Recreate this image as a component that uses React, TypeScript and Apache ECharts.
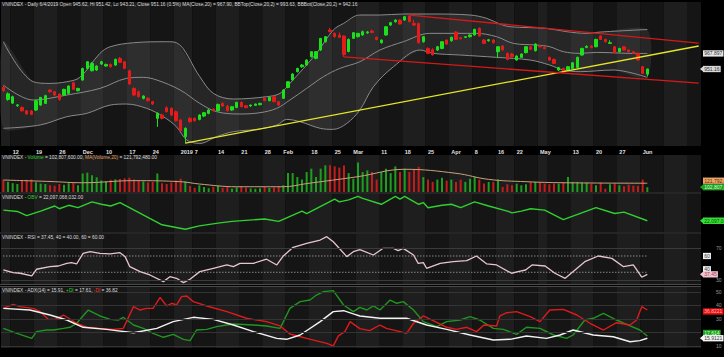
import React, { useEffect, useRef } from 'react';
import * as echarts from 'echarts';

// ---------- categories (139 trading days + empty space to the right) ----------
const CAT_COUNT = 150;
const tickLabels: [number, string][] = [
  [2, '12'], [7, '19'], [12, '26'], [17, 'Dec'], [22, '10'], [27, '17'], [32, '24'], [38, '2019'],
  [41, '7'], [46, '14'], [51, '21'], [56, '28'], [60, 'Feb'], [66, '18'], [71, '25'], [75, 'Mar'],
  [81, '11'], [86, '18'], [91, '25'], [96, 'Apr'], [101, '8'], [106, '16'], [110, '22'], [115, 'May'],
  [122, '13'], [127, '20'], [132, '27'], [137, 'Jun'],
];
const weekStarts = [0, 2, 7, 12, 17, 22, 27, 32, 37, 41, 46, 51, 56, 61, 66, 71, 76, 81, 86, 91, 96, 101, 106, 110, 115, 117, 122, 127, 132, 137, 142, 147];

// ---------- price candles: [open, high, low, close] ----------
const candles: number[][] = [
  [931.4, 933.0, 926.5, 927.8], [918.5, 926.0, 917.0, 924.5], [914.5, 922.5, 913.5, 921.4], [911.7, 913.5, 910.5, 912.6],
  [909.9, 911.0, 905.5, 906.2], [906.3, 907.0, 902.0, 902.8], [906.0, 907.0, 901.5, 902.4], [907.1, 918.0, 906.0, 917.1],
  [912.4, 921.0, 911.5, 920.7], [914.2, 923.5, 913.5, 922.5], [928.6, 929.5, 925.5, 926.8], [926.8, 927.5, 922.0, 923.2],
  [924.3, 925.0, 917.0, 918.5], [923.2, 930.0, 922.5, 929.3], [925.0, 933.5, 924.0, 932.9], [936.4, 937.5, 928.5, 929.3],
  [927.8, 931.0, 927.0, 930.3], [939.3, 952.5, 938.5, 951.8], [951.8, 959.8, 950.5, 959.0], [949.3, 958.5, 948.5, 957.2],
  [950.1, 955.0, 949.0, 954.4], [956.5, 960.0, 955.5, 959.0], [954.4, 957.0, 953.5, 956.1], [956.1, 957.0, 952.5, 953.6],
  [955.4, 962.5, 954.5, 961.5], [962.6, 964.0, 957.5, 958.3], [959.0, 960.0, 951.0, 951.8], [949.3, 950.5, 934.0, 935.0],
  [930.3, 931.5, 922.0, 923.2], [926.8, 928.0, 920.5, 921.4], [919.6, 923.0, 918.5, 922.1], [919.6, 921.0, 916.0, 917.1],
  [916.0, 917.0, 912.5, 913.5], [898.1, 904.5, 889.0, 903.5], [901.7, 903.0, 897.0, 898.1], [909.6, 911.0, 904.5, 905.3],
  [908.9, 910.0, 900.5, 901.7], [905.3, 906.5, 894.5, 895.6], [896.3, 897.5, 884.0, 884.9], [878.4, 888.5, 871.2, 887.4],
  [898.1, 899.5, 893.5, 894.5], [898.1, 899.0, 894.5, 895.6], [897.0, 902.5, 896.0, 901.7], [900.6, 905.0, 899.5, 904.2],
  [903.5, 908.0, 902.5, 907.1], [907.8, 909.0, 905.5, 906.3], [906.3, 914.0, 905.5, 913.1], [914.2, 915.5, 910.5, 911.4],
  [911.4, 912.5, 905.5, 906.3], [907.1, 911.5, 906.0, 910.6], [909.9, 916.0, 909.0, 915.3], [915.3, 916.5, 910.0, 910.6],
  [911.7, 912.5, 909.0, 909.6], [911.4, 913.0, 910.5, 912.4], [912.1, 914.0, 911.5, 913.5], [912.8, 915.0, 912.0, 914.2],
  [919.6, 920.5, 916.5, 917.1], [917.1, 921.5, 916.5, 920.7], [921.4, 922.5, 915.5, 916.0], [916.0, 917.0, 911.5, 912.4],
  [919.6, 929.5, 919.0, 928.6], [931.4, 938.0, 930.5, 937.5], [939.3, 946.5, 938.5, 945.8], [948.3, 952.5, 947.5, 951.8],
  [953.6, 956.5, 952.5, 955.4], [955.4, 961.5, 954.5, 960.8], [964.4, 970.5, 963.5, 969.8], [962.6, 970.5, 961.5, 969.8],
  [971.6, 984.5, 970.5, 984.1], [980.5, 986.5, 979.5, 985.9], [993.1, 995.5, 990.5, 991.3], [989.5, 990.5, 985.0, 985.9],
  [987.7, 990.5, 984.5, 985.2], [986.6, 987.5, 964.1, 966.5], [970.0, 984.0, 969.0, 983.0], [984.1, 991.0, 983.5, 990.2],
  [985.9, 990.0, 985.0, 989.5], [987.7, 992.5, 987.0, 991.3], [990.0, 992.0, 989.0, 991.0], [992.0, 993.5, 989.5, 990.5],
  [985.2, 986.0, 982.0, 983.0], [979.4, 983.0, 978.5, 982.3], [987.7, 997.5, 987.0, 996.6], [998.4, 1001.8, 997.5, 1001.0],
  [1002.0, 1004.5, 1001.0, 1003.8], [1003.8, 1004.5, 999.0, 999.5], [1003.8, 1008.0, 1003.0, 1007.4], [1008.1, 1009.2, 1001.5, 1002.0],
  [1000.2, 1004.0, 997.5, 998.4], [1000.2, 1001.0, 978.5, 979.4], [980.5, 986.5, 979.5, 985.9], [973.3, 974.5, 967.0, 968.0],
  [972.0, 973.5, 965.5, 966.5], [971.6, 976.0, 970.5, 975.1], [973.3, 981.0, 972.5, 980.5], [982.3, 983.0, 977.0, 978.0],
  [981.6, 986.0, 980.5, 985.2], [990.9, 992.0, 982.5, 983.0], [984.8, 985.5, 983.0, 983.7], [985.2, 986.5, 984.5, 985.9],
  [985.9, 988.5, 985.0, 987.7], [987.7, 994.5, 987.0, 993.8], [994.8, 996.0, 986.0, 986.6], [982.3, 983.5, 978.0, 978.7],
  [981.6, 983.5, 980.5, 982.6], [982.3, 983.5, 978.5, 979.4], [969.8, 975.8, 963.0, 975.1], [975.9, 977.0, 971.0, 971.6],
  [968.0, 969.0, 960.5, 961.5], [967.3, 968.5, 963.5, 964.4], [960.8, 965.8, 960.0, 965.1], [963.7, 968.0, 963.0, 967.3],
  [968.7, 975.8, 968.0, 975.1], [975.1, 976.0, 971.5, 972.3], [970.8, 978.8, 970.0, 978.0], [976.0, 977.0, 974.5, 975.0],
  [974.4, 975.5, 972.5, 973.0], [963.7, 964.5, 960.0, 960.8], [961.5, 962.5, 956.5, 957.2], [950.1, 953.5, 949.0, 952.6],
  [951.8, 952.5, 947.5, 948.3], [950.1, 954.5, 949.0, 953.6], [951.8, 958.5, 951.0, 957.9], [952.9, 964.5, 952.0, 963.7],
  [966.2, 974.0, 965.5, 973.3], [974.4, 976.5, 973.5, 975.5], [975.9, 977.0, 973.5, 974.4], [975.1, 983.8, 974.5, 983.0],
  [986.6, 987.5, 982.5, 983.0], [983.0, 984.0, 979.5, 980.5], [978.7, 982.0, 978.0, 979.4], [975.1, 976.0, 968.0, 968.7],
  [969.8, 974.0, 969.0, 973.3], [975.1, 976.0, 971.0, 971.6], [971.6, 972.5, 969.0, 969.8], [969.8, 970.5, 967.5, 968.0],
  [968.0, 968.8, 960.0, 960.8], [953.6, 954.5, 946.0, 946.4], [945.62, 951.42, 943.21, 951.16],
];

// ---------- Bollinger bands (day index, value) ----------
const bbUpper: number[][] = [
  [0, 980.5], [6.4, 937.5], [10, 935.7], [13.6, 937.5], [16.4, 942.2], [20.7, 968.0], [22.9, 975.1], [27.9, 979.4],
  [35, 980.5], [37.1, 979.4], [42.1, 942.9], [45, 925.0], [49.3, 918.9], [56.4, 921.4], [59.3, 925.0], [61.4, 935.7],
  [67.1, 968.0], [70.7, 993.1], [72.9, 1000.2], [76.4, 1009.2], [80.7, 1009.2], [85.7, 1010.3], [91.4, 1010.3], [100, 1009.2],
  [103.6, 1005.6], [106.4, 999.5], [108.6, 996.6], [116.4, 994.8], [120.7, 991.3], [125, 989.5], [127.9, 990.9], [138, 993.63],
];
const bbMiddle: number[][] = [
  [0, 933.9], [6.4, 917.8], [13.6, 923.2], [20.7, 930.3], [26.4, 941.1], [30, 942.2], [32.9, 939.3], [37.9, 928.6],
  [42.1, 914.2], [45.7, 905.3], [50.7, 902.8], [55, 904.2], [58.6, 908.9], [61.4, 917.8], [65, 930.3], [68.6, 942.9],
  [72.1, 951.8], [76.4, 959.0], [80.7, 971.6], [85.7, 980.5], [91.4, 989.5], [97.1, 989.5], [101.4, 989.5], [105.7, 985.9],
  [109.3, 978.7], [114.3, 976.9], [117.1, 975.1], [120, 969.8], [123.6, 968.0], [127.1, 969.0], [134.3, 968.0], [138, 967.9],
];
const bbLower: number[][] = [
  [0, 887.4], [7.9, 891.0], [13.6, 899.9], [17.9, 903.5], [22.9, 912.4], [26.4, 913.5], [30.7, 908.9], [34.3, 899.9],
  [37.1, 889.1], [39.3, 874.8], [42.1, 871.2], [45.7, 878.4], [49.3, 883.8], [54.3, 886.3], [58.6, 890.9], [60.7, 897.0],
  [63.6, 894.5], [67.9, 887.4], [70.7, 886.3], [73.6, 892.7], [76.4, 907.1], [79.3, 932.1], [83.6, 953.6], [89.3, 971.6],
  [92.1, 968.0], [97.9, 966.2], [105.7, 963.7], [112.9, 960.8], [117.1, 955.4], [120, 950.1], [123.6, 948.3], [130.7, 950.1],
  [138, 942.16],
];

// ---------- trend lines (day index, price) ----------
const supportLine: number[][] = [[39, 871.6], [149, 975.9]];
const channelTop: number[][] = [[87, 1009.2], [149, 979.1]];
const channelBottom: number[][] = [[73, 964.1], [149, 936.1]];

// ---------- volume (millions) ----------
const volumes: number[] = [
  138, 128, 122, 118, 135, 138, 140, 126, 120, 118, 112, 110, 118, 114, 122, 124, 112,
  168, 172, 160, 150, 135, 130, 138, 140, 142, 145, 148, 140, 135, 130, 125, 128, 168,
  122, 118, 125, 135, 143, 130,
  108, 100, 112, 104, 98, 105, 110, 100, 108, 96, 102, 106, 100, 97, 95, 98, 104, 99, 102, 107,
  112, 170, 170, 151, 139, 175, 191, 151, 191, 207, 207, 202, 196, 206, 170, 143, 220,
  175, 183, 175, 139, 175, 191, 170, 202, 175, 191, 175, 186, 200, 151,
  139, 128, 139, 148, 134, 139, 128, 139, 128, 143, 151, 139, 120, 128, 128,
  139, 104, 117, 112, 120, 112, 117, 128, 128, 128, 120, 117, 120, 120, 128, 151,
  128, 128, 124, 124, 120, 112, 124, 96, 117, 120, 112, 107, 115, 110, 108, 139, 102.8076,
];
const volumeMA: number[][] = [
  [0, 137], [10, 130], [17, 124], [28, 134], [38, 129], [42, 118], [50, 105], [60, 105], [65, 120], [76, 153],
  [86, 188], [97, 169], [104, 140], [112, 129], [120, 124], [138, 121.79],
];

// ---------- OBV (billions) ----------
const obv: number[][] = [
  [0, 22.72], [3, 22.64], [5, 22.40], [8, 22.66], [11, 22.96], [12, 22.80], [14, 23.00], [16, 22.86], [19, 23.20],
  [21, 23.06], [23, 22.96], [25, 23.16], [34, 21.86], [39, 21.60], [42, 21.80], [46, 21.96], [49, 22.06], [56, 22.20],
  [59, 22.06], [64, 22.66], [65, 22.52], [71, 23.36], [72, 23.20], [74, 23.32], [76, 23.52], [77, 23.40], [81, 23.06],
  [84, 23.52], [85, 23.36], [86, 23.52], [89, 23.06], [90, 23.16], [91, 22.86], [94, 23.00], [96, 23.06], [98, 22.86],
  [101, 23.20], [104, 22.96], [108, 22.66], [109, 22.56], [111, 22.66], [113, 22.80], [116, 22.72], [120, 22.16],
  [127, 22.86], [131, 22.52], [133, 22.60], [138, 22.097],
];

// ---------- RSI ----------
const rsi: number[][] = [
  [0, 42.8], [2.1, 39.5], [3.6, 38.8], [6.1, 35.5], [7.1, 43.7], [10, 46.9], [11.8, 47.7], [13.6, 51], [14.6, 51.8],
  [15.7, 50.2], [17.1, 63.3], [18.6, 65.3], [20.7, 63.3], [22.9, 62.5], [25, 64.1], [26.1, 59.2], [27.1, 46.9],
  [29.3, 40.8], [31.4, 36.7], [34.3, 28.5], [35.7, 34.6], [37.1, 32.6], [38.6, 27.3], [40, 31.4], [42.1, 40.8],
  [45, 44.9], [47.9, 49], [49.3, 46.9], [50.7, 51], [53.6, 51], [56.4, 56], [58.6, 49], [60, 60], [62.1, 70.7],
  [65, 75.6], [67.9, 79.6], [69.3, 83.7], [70.7, 77.5], [73.6, 59.2], [75, 65.3], [76.4, 67.8], [79.3, 61.2],
  [81.4, 69.4], [83.6, 69.4], [84.6, 66.5], [85.7, 69.4], [87.9, 61.2], [88.9, 51], [90, 51.8], [90.7, 44.9],
  [93.6, 51], [96.4, 53], [99.3, 54.3], [101.4, 60], [103.6, 50.2], [105.7, 49], [108.9, 38.8], [110.3, 40.8],
  [111.9, 42.8], [113.3, 49], [116.1, 47.7], [118.2, 38.8], [120.4, 32.6], [124.6, 53], [127.5, 60], [130.4, 57.1],
  [132.9, 46.9], [135, 49], [136.8, 33.9], [138, 37.45],
];
const rsiLevels = [40, 60];

// ---------- ADX / +DI / -DI ----------
const minusDI: number[][] = [
  [0, 38.0], [2.1, 41.0], [3.6, 39.3], [6.4, 38.0], [7.9, 35.6], [9.6, 29.9], [11.1, 29.9], [12.9, 33.1], [15.7, 27.0],
  [17.9, 24.0], [20.7, 23.2], [23.6, 22.5], [25.7, 23.2], [27.9, 39.3], [29.3, 36.8], [30.7, 38.0], [32.1, 38.0],
  [33.6, 46.2], [35, 39.8], [36.1, 41.8], [37.1, 40.5], [38.2, 46.7], [39.3, 47.2], [40.7, 43.0], [43.6, 39.8],
  [47.9, 35.6], [52.1, 30.7], [56.4, 28.2], [59.3, 25.0], [61.4, 19.0], [65, 15.8], [69.3, 12.1], [70.7, 10.2],
  [71.8, 17.6], [73.2, 20.8], [74.3, 28.2], [76.4, 23], [78.5, 21.5], [80.7, 25.7], [82.1, 23.2], [85, 20.8],
  [86.4, 19.5], [87.9, 27.0], [90, 32.4], [92.1, 28.9], [95, 24.0], [97.1, 22.5], [99.3, 24.0], [101.4, 20.8],
  [103, 25.7], [105.7, 25.0], [106.4, 32.4], [107.9, 34.8], [110, 35.6], [112.9, 31.9], [115, 28.2], [117.1, 36.8],
  [120, 37.3], [122.9, 33.1], [125.7, 27.0], [128.6, 22.0], [131.4, 27.4], [134.3, 25.7], [135.7, 29.4], [136.8, 39.3],
  [138, 36.82],
];
const plusDI: number[][] = [
  [0, 23.2], [2.9, 19.5], [6.1, 15.8], [7.1, 20.8], [9.3, 22.0], [10.7, 22.0], [12.9, 23.2], [14.3, 24.0], [15.7, 27.0],
  [18.2, 36.8], [20.7, 32.4], [22.9, 29.9], [24.6, 29.4], [25.7, 31.4], [27.9, 25.7], [30, 23.2], [32.1, 19.5],
  [34.3, 16.6], [36.4, 18.8], [38.6, 15.1], [40, 14.1], [41.4, 22.0], [43.6, 22.5], [45.7, 24.5], [49.3, 26.4],
  [53.6, 25.7], [56.4, 25.0], [59.3, 23.2], [61.4, 38.0], [63.6, 43.0], [65.7, 44.2], [67.1, 47.9], [68.6, 50.4],
  [70.7, 51.2], [72.9, 40.5], [75, 35.6], [76.4, 38.8], [77.9, 36.8], [79.3, 39.8], [80.7, 36.8], [82.9, 44.2],
  [84.3, 41.8], [85.7, 43.0], [87.9, 36.8], [90, 28.2], [92.9, 24.5], [95, 28.2], [97.9, 29.4], [100, 31.9],
  [102.1, 29.4], [105, 23.2], [107.1, 22.5], [110, 18.8], [112.1, 24.0], [115, 23.2], [117.9, 18.3], [120.7, 15.8],
  [122.1, 18.3], [124.6, 29.4], [126.4, 30.7], [128.6, 34.4], [131.4, 29.4], [134.3, 25.0], [136.4, 22.0], [138, 17.61],
];
const adx: number[][] = [
  [0, 38.0], [5.7, 36.8], [10, 33.1], [13.6, 29.4], [17.1, 24.0], [22.1, 22.5], [27.9, 20.0], [32.9, 23.2], [36.4, 28.2],
  [40.7, 31.4], [45, 29.9], [49.3, 25.7], [53.6, 20.8], [58.6, 15.8], [60.7, 15.1], [63.6, 18.3], [67.9, 28.2],
  [70.7, 35.6], [72.9, 36.3], [75, 33.9], [76.4, 32.4], [80.7, 30.7], [86.4, 30.7], [90.7, 25.7], [95, 22.5],
  [100, 18.3], [105, 14.6], [108.6, 15.1], [112.1, 17.6], [116.4, 15.8], [119.3, 18.3], [122.1, 22.0], [126.4, 18.3],
  [130.7, 17.0], [134.3, 13.3], [136.4, 14.1], [138, 15.91],
];
const adxLevels = [10, 20, 30, 40, 50];
const rsiGrid = [30, 70];

// ---------- layout ----------
const FONT = 'Liberation Sans, Arial, sans-serif';
const GRIDS = [
  { top: 2, height: 144 },
  { top: 155, height: 37 },
  { top: 194, height: 38 },
  { top: 234, height: 50 },
  { top: 287, height: 61 },
];
const Y_RANGES = [
  [868.4, 1023.2],
  [80, 256],
  [21.44, 23.66],
  [25.6, 87.0],
  [8.67, 53.85],
];
const GREEN = '#1be01b';
const RED = '#e31b1b';

const labelMap: Record<number, string> = {};
tickLabels.forEach(([i, t]) => { labelMap[i] = t; });
const cats = Array.from({ length: CAT_COUNT }, (_, i) => String(i));

function buildOption(): any {
  const grid = GRIDS.map((g) => ({ left: 1, right: 23, top: g.top, height: g.height, containLabel: false }));
  const catAxes = GRIDS.map((_, gi) => ({
    type: 'category', gridIndex: gi, data: cats, boundaryGap: true,
    axisLine: { show: false }, axisTick: { show: false },
    axisLabel: gi === 0 ? {
      show: true, color: '#e0e0e0', fontSize: 5.5, fontFamily: FONT, fontWeight: 'bold', align: 'left', margin: 3,
      interval: (idx: number) => labelMap[idx] !== undefined,
      formatter: (_v: string, idx: number) => labelMap[idx] ?? '',
    } : { show: false },
    splitLine: { show: false },
    splitArea: {
      show: true,
      interval: (idx: number) => weekStarts.includes(idx),
      areaStyle: { color: ['#1e1e1e', '#151515'] },
    },
  }));
  const valAxes = GRIDS.map((_, gi) => ({ type: 'value', gridIndex: gi, min: -0.5, max: CAT_COUNT - 0.5, show: false }));
  const yAxis = GRIDS.map((_, gi) => ({
    type: 'value', gridIndex: gi, min: Y_RANGES[gi][0], max: Y_RANGES[gi][1], show: false, scale: true,
    splitLine: { show: false },
  }));

  const lineBase = { type: 'line', symbol: 'none', silent: true };
  const series: any[] = [
    {
      type: 'custom', xAxisIndex: 5, yAxisIndex: 0, data: [0], silent: true, z: 1,
      renderItem: (_p: any, api: any) => {
        const pts: number[][] = [];
        bbUpper.forEach((d) => pts.push(api.coord(d)));
        for (let k = bbLower.length - 1; k >= 0; k--) pts.push(api.coord(bbLower[k]));
        return { type: 'polygon', shape: { points: pts, smooth: 0.25 }, style: { fill: 'rgba(255,255,255,0.075)' } };
      },
    },
    { ...lineBase, xAxisIndex: 5, yAxisIndex: 0, data: bbUpper, smooth: 0.35, lineStyle: { color: '#8a8a8a', width: 1 }, z: 2 },
    { ...lineBase, xAxisIndex: 5, yAxisIndex: 0, data: bbMiddle, smooth: 0.35, lineStyle: { color: '#8a8a8a', width: 1 }, z: 2 },
    { ...lineBase, xAxisIndex: 5, yAxisIndex: 0, data: bbLower, smooth: 0.35, lineStyle: { color: '#8a8a8a', width: 1 }, z: 2 },
    {
      type: 'candlestick', xAxisIndex: 0, yAxisIndex: 0, barWidth: 3, z: 3, silent: true,
      data: candles.map(([o, h, l, c]) => [o, c, l, h]),
      itemStyle: { color: GREEN, color0: RED, borderColor: GREEN, borderColor0: RED, borderWidth: 1 },
    },
    { ...lineBase, xAxisIndex: 5, yAxisIndex: 0, data: supportLine, lineStyle: { color: '#e6e62a', width: 1.3 }, z: 4 },
    { ...lineBase, xAxisIndex: 5, yAxisIndex: 0, data: channelTop, lineStyle: { color: '#d21a1a', width: 1.3 }, z: 4 },
    { ...lineBase, xAxisIndex: 5, yAxisIndex: 0, data: channelBottom, lineStyle: { color: '#d21a1a', width: 1.3 }, z: 4 },
    {
      type: 'bar', xAxisIndex: 1, yAxisIndex: 1, barWidth: 2, silent: true, z: 2,
      data: volumes.map((v, i) => ({
        value: v,
        itemStyle: { color: candles[i][3] >= candles[i][0] ? '#1e9e1e' : '#c41c1c' },
      })),
    },
    { ...lineBase, xAxisIndex: 6, yAxisIndex: 1, data: volumeMA, smooth: 0.4, lineStyle: { color: '#c9a27a', width: 1 }, z: 3 },
    { ...lineBase, xAxisIndex: 7, yAxisIndex: 2, data: obv, lineStyle: { color: '#2fd02f', width: 1.4 }, z: 3 },
    {
      ...lineBase, xAxisIndex: 8, yAxisIndex: 3, data: [], z: 1,
      markLine: {
        silent: true, symbol: 'none', label: { show: false },
        lineStyle: { color: '#3a3a3a', width: 1, type: 'solid' },
        data: rsiGrid.map((v) => ({ yAxis: v })),
      },
    },
    ...rsiLevels.map((lv) => ({
      ...lineBase, xAxisIndex: 8, yAxisIndex: 3, data: [[0, lv], [138, lv]],
      lineStyle: { color: '#bdbdbd', width: 1, type: [1, 2] }, z: 2,
    })),
    { ...lineBase, xAxisIndex: 8, yAxisIndex: 3, data: rsi, lineStyle: { color: '#e8c4d0', width: 1.3 }, z: 3 },
    {
      ...lineBase, xAxisIndex: 9, yAxisIndex: 4, data: [], z: 1,
      markLine: {
        silent: true, symbol: 'none', label: { show: false },
        lineStyle: { color: '#343434', width: 1, type: 'solid' },
        data: adxLevels.map((v) => ({ yAxis: v })),
      },
    },
    { ...lineBase, xAxisIndex: 9, yAxisIndex: 4, data: plusDI, lineStyle: { color: '#1f961f', width: 1.4 }, z: 3 },
    { ...lineBase, xAxisIndex: 9, yAxisIndex: 4, data: minusDI, lineStyle: { color: '#e01a1a', width: 1.4 }, z: 3 },
    { ...lineBase, xAxisIndex: 9, yAxisIndex: 4, data: adx, lineStyle: { color: '#f2f2f2', width: 1.4 }, z: 4 },
  ];

  return {
    animation: false,
    backgroundColor: '#000',
    grid,
    xAxis: [...catAxes, ...valAxes],
    yAxis,
    series,
  };
}

function buildGraphics(chart: any): any[] {
  const py = (axis: number, v: number) => chart.convertToPixel({ yAxisIndex: axis }, v) as number;
  const g: any[] = [];
  const header = (y: number, text: string, rich: any) => g.push({
    type: 'text', x: 2, y, z: 100, silent: true,
    style: { text, rich, fontSize: 5, fontFamily: FONT, fill: '#dcdcdc', verticalAlign: 'middle' },
  });
  const W = { fill: '#dcdcdc', fontSize: 4.8, fontFamily: FONT };
  header(4.5, '{w|VNINDEX - Daily 6/4/2019 Open 945.62, Hi 951.42, Lo 943.21, Close 951.16 (0.5%) MA(Close,20) = 967.90, BBTop(Close,20,2) = 993.63, BBBot(Close,20,2) = 942.16}', { w: W });
  header(157, '{w|VNINDEX - }{g|Volume}{w| = 102,807,600.00, }{o|MA(Volume,20)}{w| = 121,792,480.00}',
    { w: W, g: { ...W, fill: '#2fd02f' }, o: { ...W, fill: '#e0a060' } });
  header(197.5, '{w|VNINDEX - }{g|OBV}{w| = 22,097,068,032.00}', { w: W, g: { ...W, fill: '#2fd02f' } });
  header(237, '{w|VNINDEX - RSI = 37.45, 40 = 40.00, 60 = 60.00}', { w: W });
  header(290, '{w|VNINDEX - ADX(14) = 15.91, }{g|+DI}{w| = 17.61, }{r|-DI}{w| = 36.82}',
    { w: W, g: { ...W, fill: '#2fd02f' }, r: { ...W, fill: '#ff3030' } });

  // panel separators
  [193, 233, 284.5, 286.5].forEach((y) => g.push({
    type: 'line', silent: true, z: 90, shape: { x1: 0, y1: y, x2: 701, y2: y }, style: { stroke: '#4a4a4a', lineWidth: 1 },
  }));

  const box = (y: number, text: string, bg: string, fg: string, arrow: boolean) => {
    if (arrow) {
      g.push({ type: 'polygon', silent: true, z: 100, shape: { points: [[700, y], [703, y - 2.6], [703, y + 2.6]] }, style: { fill: bg } });
    }
    g.push({
      type: 'text', x: 703, y, silent: true, z: 100,
      style: { text, fontSize: 5, fontFamily: FONT, fill: fg, backgroundColor: bg, padding: [0.8, 1.2, 0.5, 1.2], verticalAlign: 'middle' },
    });
  };
  const plain = (y: number, text: string) => g.push({
    type: 'text', x: 716, y, silent: true, z: 100,
    style: { text, fontSize: 5, fontFamily: FONT, fill: '#9a9a9a', verticalAlign: 'middle' },
  });

  const last = candles[candles.length - 1][3];
  box(py(0, 967.897), '967.897', '#e6e6e6', '#333', false);
  box(py(0, last), last.toFixed(2), '#d8d8d8', '#333', true);
  box(py(1, 121.79248) - 2.5, '121,792,480', '#eaa565', '#5a3010', false);
  box(py(1, volumes[volumes.length - 1]), '102,807,600', '#22a022', '#d8ffd8', true);
  box(py(2, obv[obv.length - 1][1]), '22,097,068,032', '#35e035', '#0e4e0e', true);
  plain(py(3, 70), '70');
  box(py(3, 60), '60', '#f0f0f0', '#333', false);
  box(py(3, 40) - 3, '40', '#f0f0f0', '#333', false);
  box(py(3, 37.45), '37.45', '#f2c4d0', '#a03a5a', true);
  plain(py(3, 30), '30');
  plain(py(4, 50), '50');
  plain(py(4, 40) - 1, '40');
  plain(py(4, 30), '30');
  plain(py(4, 10), '10');
  box(py(4, 36.8221) + 1.5, '36.8221', '#e81010', '#ffb0b0', false);
  box(py(4, 17.614) - 3, '17.614', '#1e9e1e', '#d8ffd8', false);
  box(py(4, 15.9121), '15.9121', '#f6f6f6', '#333', true);
  return g;
}

export default function App() {
  const ref = useRef<HTMLDivElement>(null);
  useEffect(() => {
    document.body.style.margin = '0';
    document.body.style.background = '#000';
    const chart = echarts.init(ref.current!, undefined, { renderer: 'svg' });
    chart.setOption(buildOption());
    chart.setOption({ graphic: buildGraphics(chart) });
    return () => chart.dispose();
  }, []);
  return <div ref={ref} style={{ width: 724, height: 357 }} />;
}
